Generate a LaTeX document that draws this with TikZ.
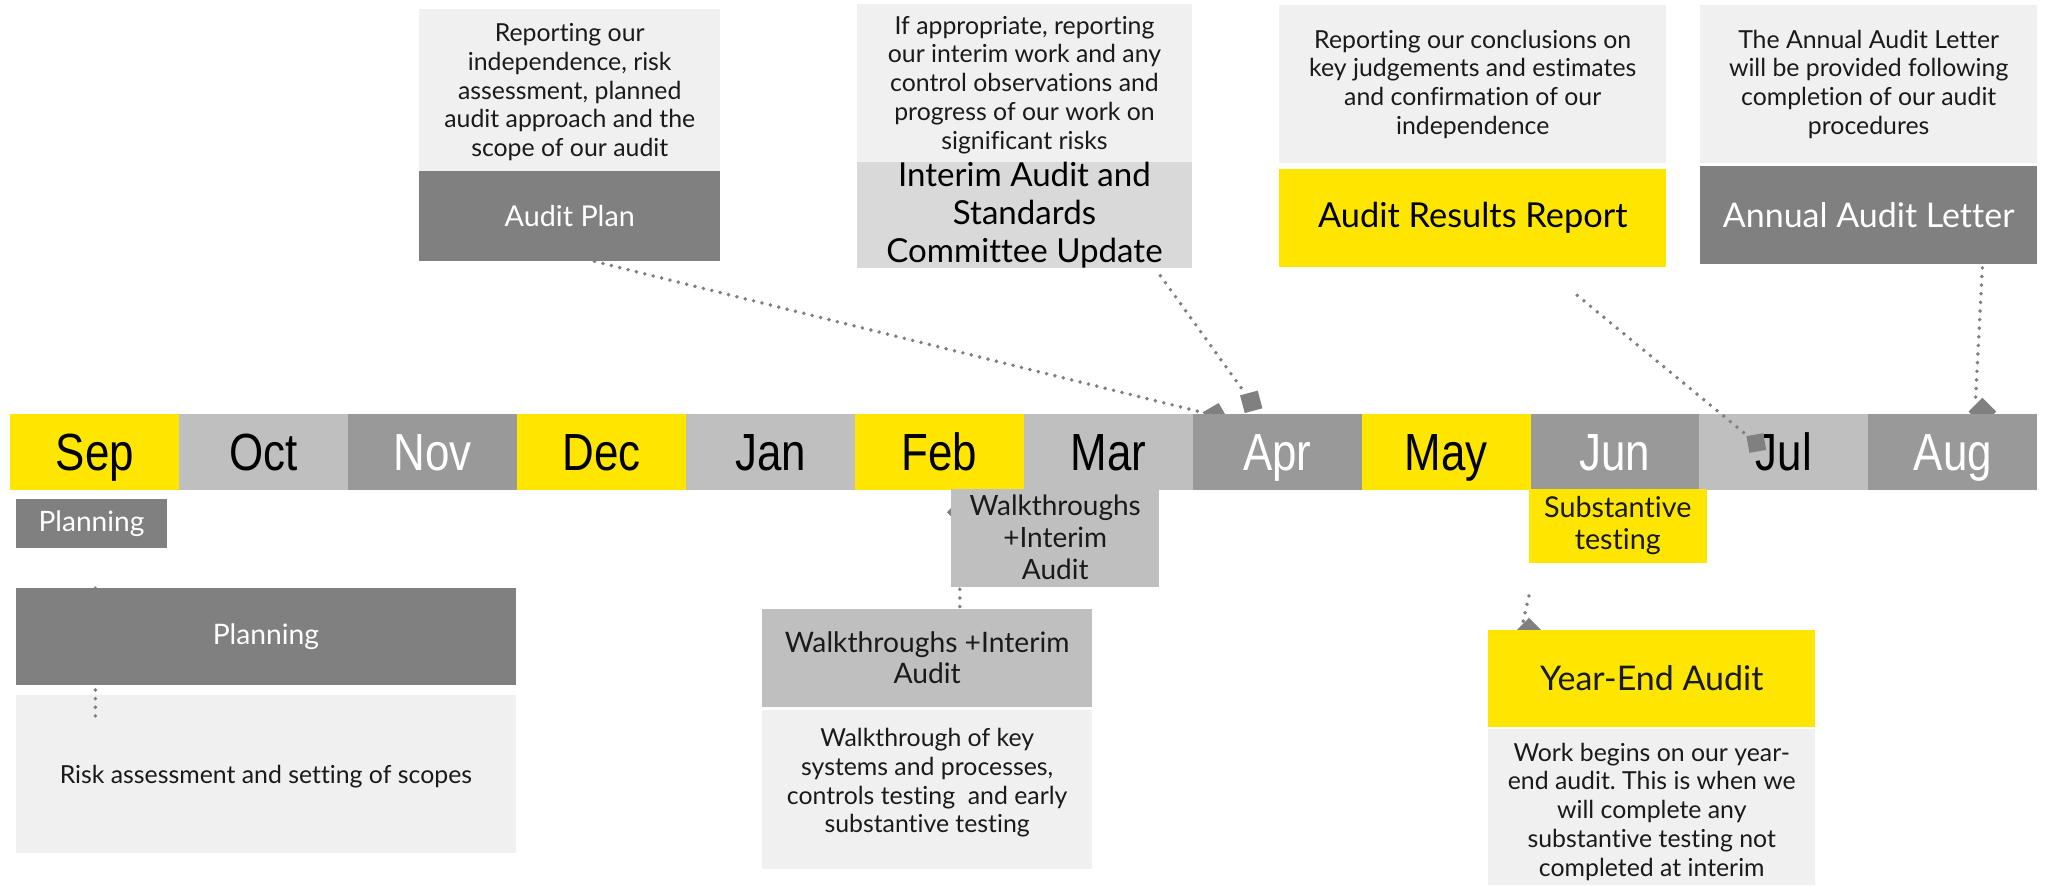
\documentclass[tikz,border=0pt]{standalone}
\usepackage{fontspec}
\setmainfont{Lato}[Ligatures=NoCommon]
\newfontfamily\monthfont[FakeStretch=0.84]{Liberation Sans}
\frenchspacing
\usetikzlibrary{calc}
\definecolor{eyyellow}{HTML}{FFE600}
\definecolor{darkbox}{HTML}{808080}
\definecolor{descbg}{HTML}{F0F0F0}
\definecolor{lightbox}{HTML}{BFBFBF}
\definecolor{midbox}{HTML}{999999}
\definecolor{interimbg}{HTML}{D9D9D9}
\definecolor{txt}{HTML}{1A1A1A}
\tikzset{
  desc/.style={fill=descbg, inner sep=0, outer sep=0, align=center, text=txt, font=\fontsize{19}{22}\selectfont},
  desctext/.style={inner sep=0, outer sep=0, align=center, text=txt, font=\fontsize{19}{22}\selectfont},
  titlebox/.style={inner sep=0, outer sep=0, align=center},
  month/.style={minimum width=129.25, minimum height=58, inner sep=0, outer sep=0, text height=28, text depth=0, font=\monthfont\fontsize{40}{40}\selectfont},
  dots/.style={draw=darkbox, line width=3pt, line cap=round, dash pattern=on 0pt off 6.6pt},
  marker/.style={fill=darkbox, inner sep=0, minimum size=#1},
}
\begin{document}
\begin{tikzpicture}[x=1pt,y=-1pt]
\useasboundingbox (0,0) rectangle (1568,678);
% ---------- top: descriptions and titles
\node[desc, minimum width=230, minimum height=124] (pland) at (436,69) {};
\node[desctext] (plandt) at ($(pland.center)+(0,1.5)$) {Reporting our\\independence, risk\\assessment, planned\\audit approach and the\\scope of our audit};
\node[titlebox, fill=darkbox, text=white, minimum width=230, minimum height=69, font=\fontsize{22}{26}\selectfont] (plan) at (436,165.5) {Audit Plan};

\node[desc, minimum width=256, minimum height=124] (intd) at (784,65) {If appropriate, reporting\\our interim work and any\\control observations and\\progress of our work on\\significant risks};
\node[titlebox, fill=interimbg, text=black, minimum width=256, minimum height=73, font=\fontsize{25.3}{29}\selectfont] (int) at (784,164.5) {Interim Audit and\\Standards\\Committee Update};

\node[desc, minimum width=296, minimum height=121] (resd) at (1127,64.5) {Reporting our conclusions on\\key judgements and estimates\\and confirmation of our\\independence};
\node[titlebox, fill=eyyellow, text=black, minimum width=296, minimum height=75, font=\fontsize{26.3}{30}\selectfont] (res) at (1127,166.5) {Audit Results Report};

\node[desc, minimum width=258, minimum height=121] (annd) at (1430,64.5) {The Annual Audit Letter\\will be provided following\\completion of our audit\\procedures};
\node[titlebox, fill=darkbox, text=white, minimum width=258, minimum height=75, font=\fontsize{26}{30}\selectfont] (ann) at (1430,164.5) {Annual Audit Letter};

% ---------- markers under the timeline
\node[marker=14, rotate=30] (mk1) at (930,318) {};
\node[marker=15, rotate=45] (mk4) at (1517,315) {};
\coordinate (c1) at ($(plan.south)+(19,0)$);
\draw[dots] (c1) -- (mk1);
\coordinate (c4) at ($(ann.south)+(87,3)$);
\draw[dots] (c4) -- (mk4.north);

% ---------- timeline
\foreach \i/\m/\f/\t in {0/Sep/eyyellow/black, 1/Oct/lightbox/black, 2/Nov/midbox/white,
  3/Dec/eyyellow/black, 4/Jan/lightbox/black, 5/Feb/eyyellow/black, 6/Mar/lightbox/black,
  7/Apr/midbox/white, 8/May/eyyellow/black, 9/Jun/midbox/white, 10/Jul/lightbox/black,
  11/Aug/midbox/white}
  \node[month, fill=\f, text=\t] (m\i) at ({8+129.25*(\i+0.5)},346) {\m};

% ---------- markers above the timeline
\node[marker=14, rotate=15] (mk2) at (957.5,307.5) {};
\coordinate (c2) at ($(int.south)+(104,6)$);
\draw[dots] (c2) -- (mk2);
\node[marker=13, rotate=10] (mk3) at (1344,339) {};
\coordinate (c3) at ($(res.south)+(80,22)$);
\draw[dots] (c3) -- (mk3);

% ---------- Planning
\node[marker=9, rotate=45] (mkp) at (73,455) {};
\node[titlebox, fill=darkbox, text=white, minimum width=116, minimum height=37, font=\fontsize{21.5}{24}\selectfont] (plans) at (70,400.5) {Planning};
\node[titlebox, fill=darkbox, text=white, minimum width=383, minimum height=74, font=\fontsize{21.6}{25}\selectfont] (planb) at (203.5,487) {Planning};
\node[desc, minimum width=383, minimum height=121] (pland2) at (203.5,592.5) {};
\node[desctext] (pland2t) at ($(pland2.center)+(0,1.5)$) {Risk assessment and setting of scopes};
\coordinate (pb) at (73,528);
\coordinate (pe) at (73,548);
\draw[dots] (pb) -- (pe);

% ---------- Walkthroughs
\node[marker=9, rotate=45] (mkw) at (731,392) {};
\node[titlebox, fill=lightbox, text=txt, minimum width=159, minimum height=75, font=\fontsize{21.4}{24.5}\selectfont] (walks) at (807.5,411.5) {Walkthroughs\\+Interim\\Audit};
\node[titlebox, fill=lightbox, text=txt, minimum width=253, minimum height=75, font=\fontsize{21.6}{24}\selectfont] (walkb) at (709.5,503.5) {Walkthroughs +Interim\\Audit};
\node[desc, minimum width=253, minimum height=122] (walkd) at (709.5,604) {};
\node[desctext] (walkdt) at ($(walkd.center)+(0,-5)$) {Walkthrough of key\\systems and processes,\\controls testing~ and early\\substantive testing};
\coordinate (wb) at (734.5,451);
\draw[dots] (wb) -- (walkb.north -| wb);

% ---------- Substantive / Year-End
\node[titlebox, fill=eyyellow, text=txt, minimum width=136, minimum height=57, font=\fontsize{22}{24.5}\selectfont] (subt) at (1238,402.5) {Substantive\\testing};
\node[marker=13, rotate=45] (mky) at (1170,482) {};
\node[titlebox, fill=eyyellow, text=txt, minimum width=250, minimum height=74, font=\fontsize{26}{30}\selectfont] (ye) at (1264,519) {Year-End Audit};
\node[desc, minimum width=250, minimum height=119] (yed) at (1264,617.5) {};
\node[desctext] (yedt) at ($(yed.center)+(0,3.5)$) {Work begins on our year-\\end audit. This is when we\\will complete any\\substantive testing not\\completed at interim};
\coordinate (yb) at (1170,456);
\draw[dots] (yb) -- (mky.north);
\end{tikzpicture}
\end{document}
